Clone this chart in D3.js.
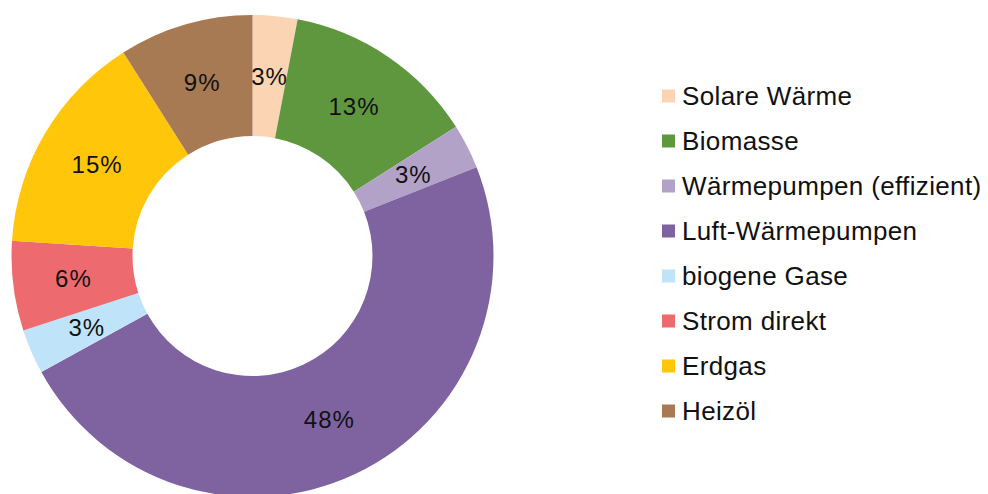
<!DOCTYPE html>
<html>
<head>
<meta charset="utf-8">
<script src="https://cdn.jsdelivr.net/npm/d3@7"></script>
<style>
  html, body { margin: 0; padding: 0; background: #ffffff; }
  svg { display: block; }
  text { font-family: "Liberation Sans", Arial, sans-serif; fill: #111111; }
</style>
</head>
<body>
<script>
// Heat supply shares by energy source (percent)
const categories = [
  "Solare Wärme",
  "Biomasse",
  "Wärmepumpen (effizient)",
  "Luft-Wärmepumpen",
  "biogene Gase",
  "Strom direkt",
  "Erdgas",
  "Heizöl"
];
const shares = [3, 13, 3, 48, 3, 6, 15, 9];
const colors = [
  "#FBD4B4", "#5F973E", "#B3A2C7", "#7F63A1",
  "#BFE4FA", "#ED6B6E", "#FFC60A", "#A77A54"
];

const width = 988, height = 494;
const cx = 252.5, cy = 256;
const outerR = 241, innerR = 120;

const svg = d3.select("body").append("svg")
  .attr("width", width)
  .attr("height", height);

const data = categories.map((c, i) => ({ name: c, value: shares[i], color: colors[i] }));

const pie = d3.pie().value(d => d.value).sort(null);
const arc = d3.arc().innerRadius(innerR).outerRadius(outerR);
const fmt = v => d3.format(".0%")(v / 100);

const g = svg.append("g").attr("transform", `translate(${cx},${cy})`);
const arcs = pie(data);

g.selectAll("path.slice")
  .data(arcs)
  .join("path")
  .attr("class", "slice")
  .attr("d", arc)
  .attr("fill", d => d.data.color);

g.selectAll("text.pct")
  .data(arcs)
  .join("text")
  .attr("class", "pct")
  .attr("transform", d => `translate(${arc.centroid(d)})`)
  .attr("text-anchor", "middle")
  .attr("dy", "0.36em")
  .attr("font-size", 24)
  .attr("letter-spacing", 1)
  .text(d => fmt(d.data.value));

// Legend
const legend = svg.append("g").attr("transform", "translate(662,96)");
const rowY = d3.scalePoint().domain(categories).range([0, 315]);

const rows = legend.selectAll("g.row")
  .data(data)
  .join("g")
  .attr("class", "row")
  .attr("transform", d => `translate(0,${rowY(d.name)})`);

rows.append("rect")
  .attr("x", 0)
  .attr("y", -6.5)
  .attr("width", 13)
  .attr("height", 13)
  .attr("fill", d => d.color);

rows.append("text")
  .attr("x", 20)
  .attr("dy", "0.36em")
  .attr("font-size", 26)
  .attr("letter-spacing", 0.35)
  .text(d => d.name);
</script>
</body>
</html>
